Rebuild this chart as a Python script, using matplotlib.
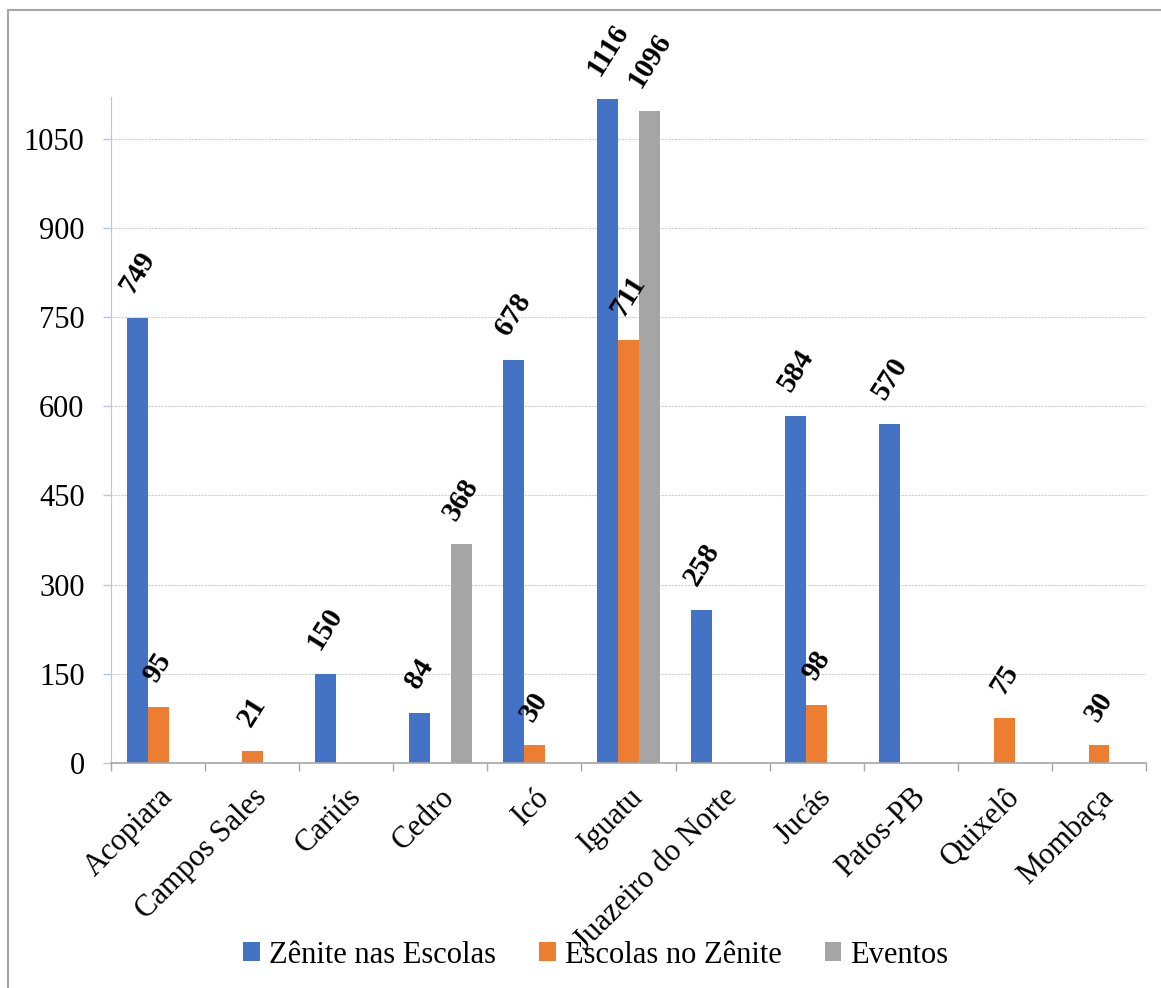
import matplotlib
matplotlib.use("Agg")
import matplotlib.pyplot as plt
from matplotlib.patches import Patch
from matplotlib.lines import Line2D
import numpy as np

categories = ["Acopiara", "Campos Sales", "Cariús", "Cedro", "Icó", "Iguatu",
              "Juazeiro do Norte", "Jucás", "Patos-PB", "Quixelô", "Mombaça"]
zenite_escolas = [749, 0, 150, 84, 678, 1116, 258, 584, 570, 0, 0]
escolas_zenite = [95, 21, 0, 0, 30, 711, 0, 98, 0, 75, 30]
eventos = [0, 0, 0, 368, 0, 1096, 0, 0, 0, 0, 0]
series_names = ["Zênite nas Escolas", "Escolas no Zênite", "Eventos"]
y_ticks = [0, 150, 300, 450, 600, 750, 900, 1050]

colors = ["#4472C4", "#ED7D31", "#A5A5A5"]
serif = ["Liberation Serif", "DejaVu Serif"]
plt.rcParams["font.family"] = serif

W, H = 1161, 988
fig = plt.figure(figsize=(W / 100, H / 100), dpi=100)
left, right, top, bottom = 111, 1146, 97, 763
ax = fig.add_axes([left / W, 1 - bottom / H, (right - left) / W, (bottom - top) / H])

x = np.arange(len(categories))
bw = 1 / 4.5
all_series = [zenite_escolas, escolas_zenite, eventos]
for i, (vals, col) in enumerate(zip(all_series, colors)):
    xs = x + (i - 1) * bw
    ax.bar(xs, vals, width=bw, color=col, zorder=3)
    for xi, v in zip(xs, vals):
        if v:
            ax.annotate(str(v), (xi, v), xytext=(0, 14), textcoords="offset points",
                        ha="center", va="bottom", rotation=58, fontsize=21,
                        fontweight="bold", color="black", zorder=5)

ax.set_xlim(-0.5, len(categories) - 0.5)
ax.set_ylim(0, 1120)
ax.set_yticks(y_ticks)
ax.set_yticklabels([str(t) for t in y_ticks], fontsize=22)
ax.set_xticks(x)
ax.set_xticklabels(categories, fontsize=22, rotation=45, ha="right",
                   rotation_mode="anchor")
ax.tick_params(axis="x", which="major", length=0, pad=14)
ax.set_xticks(np.arange(-0.5, len(categories), 1), minor=True)
ax.tick_params(axis="x", which="minor", length=6, color="#A6A6A6", width=1)
ax.tick_params(axis="y", length=6, color="#B4C7E7", width=1, pad=13)

for s in ["top", "right"]:
    ax.spines[s].set_visible(False)
ax.spines["left"].set_color("#B4C7E7")
ax.spines["bottom"].set_color("#A6A6A6")
ax.spines["bottom"].set_linewidth(1.2)
ax.spines["bottom"].set_zorder(4)
ax.grid(axis="y", color="#CFCFCF", linestyle=(0, (2, 1)), linewidth=0.8, zorder=0)

handles = [Patch(facecolor=c, edgecolor="none") for c in colors]
fig.legend(handles, series_names, loc="center", bbox_to_anchor=(596 / W, 1 - 955 / H),
           ncol=3, frameon=False, fontsize=22, handlelength=0.55, handleheight=0.55,
           handletextpad=0.3, columnspacing=1.4)

fig.add_artist(Line2D([8 / W, 8 / W], [0, 1 - 10 / H], color="#A6A6A6", linewidth=1.5,
                      transform=fig.transFigure))
fig.add_artist(Line2D([8 / W, 1], [1 - 10 / H, 1 - 10 / H], color="#A6A6A6", linewidth=1.5,
                      transform=fig.transFigure))

fig.savefig("out.png", dpi=100)
